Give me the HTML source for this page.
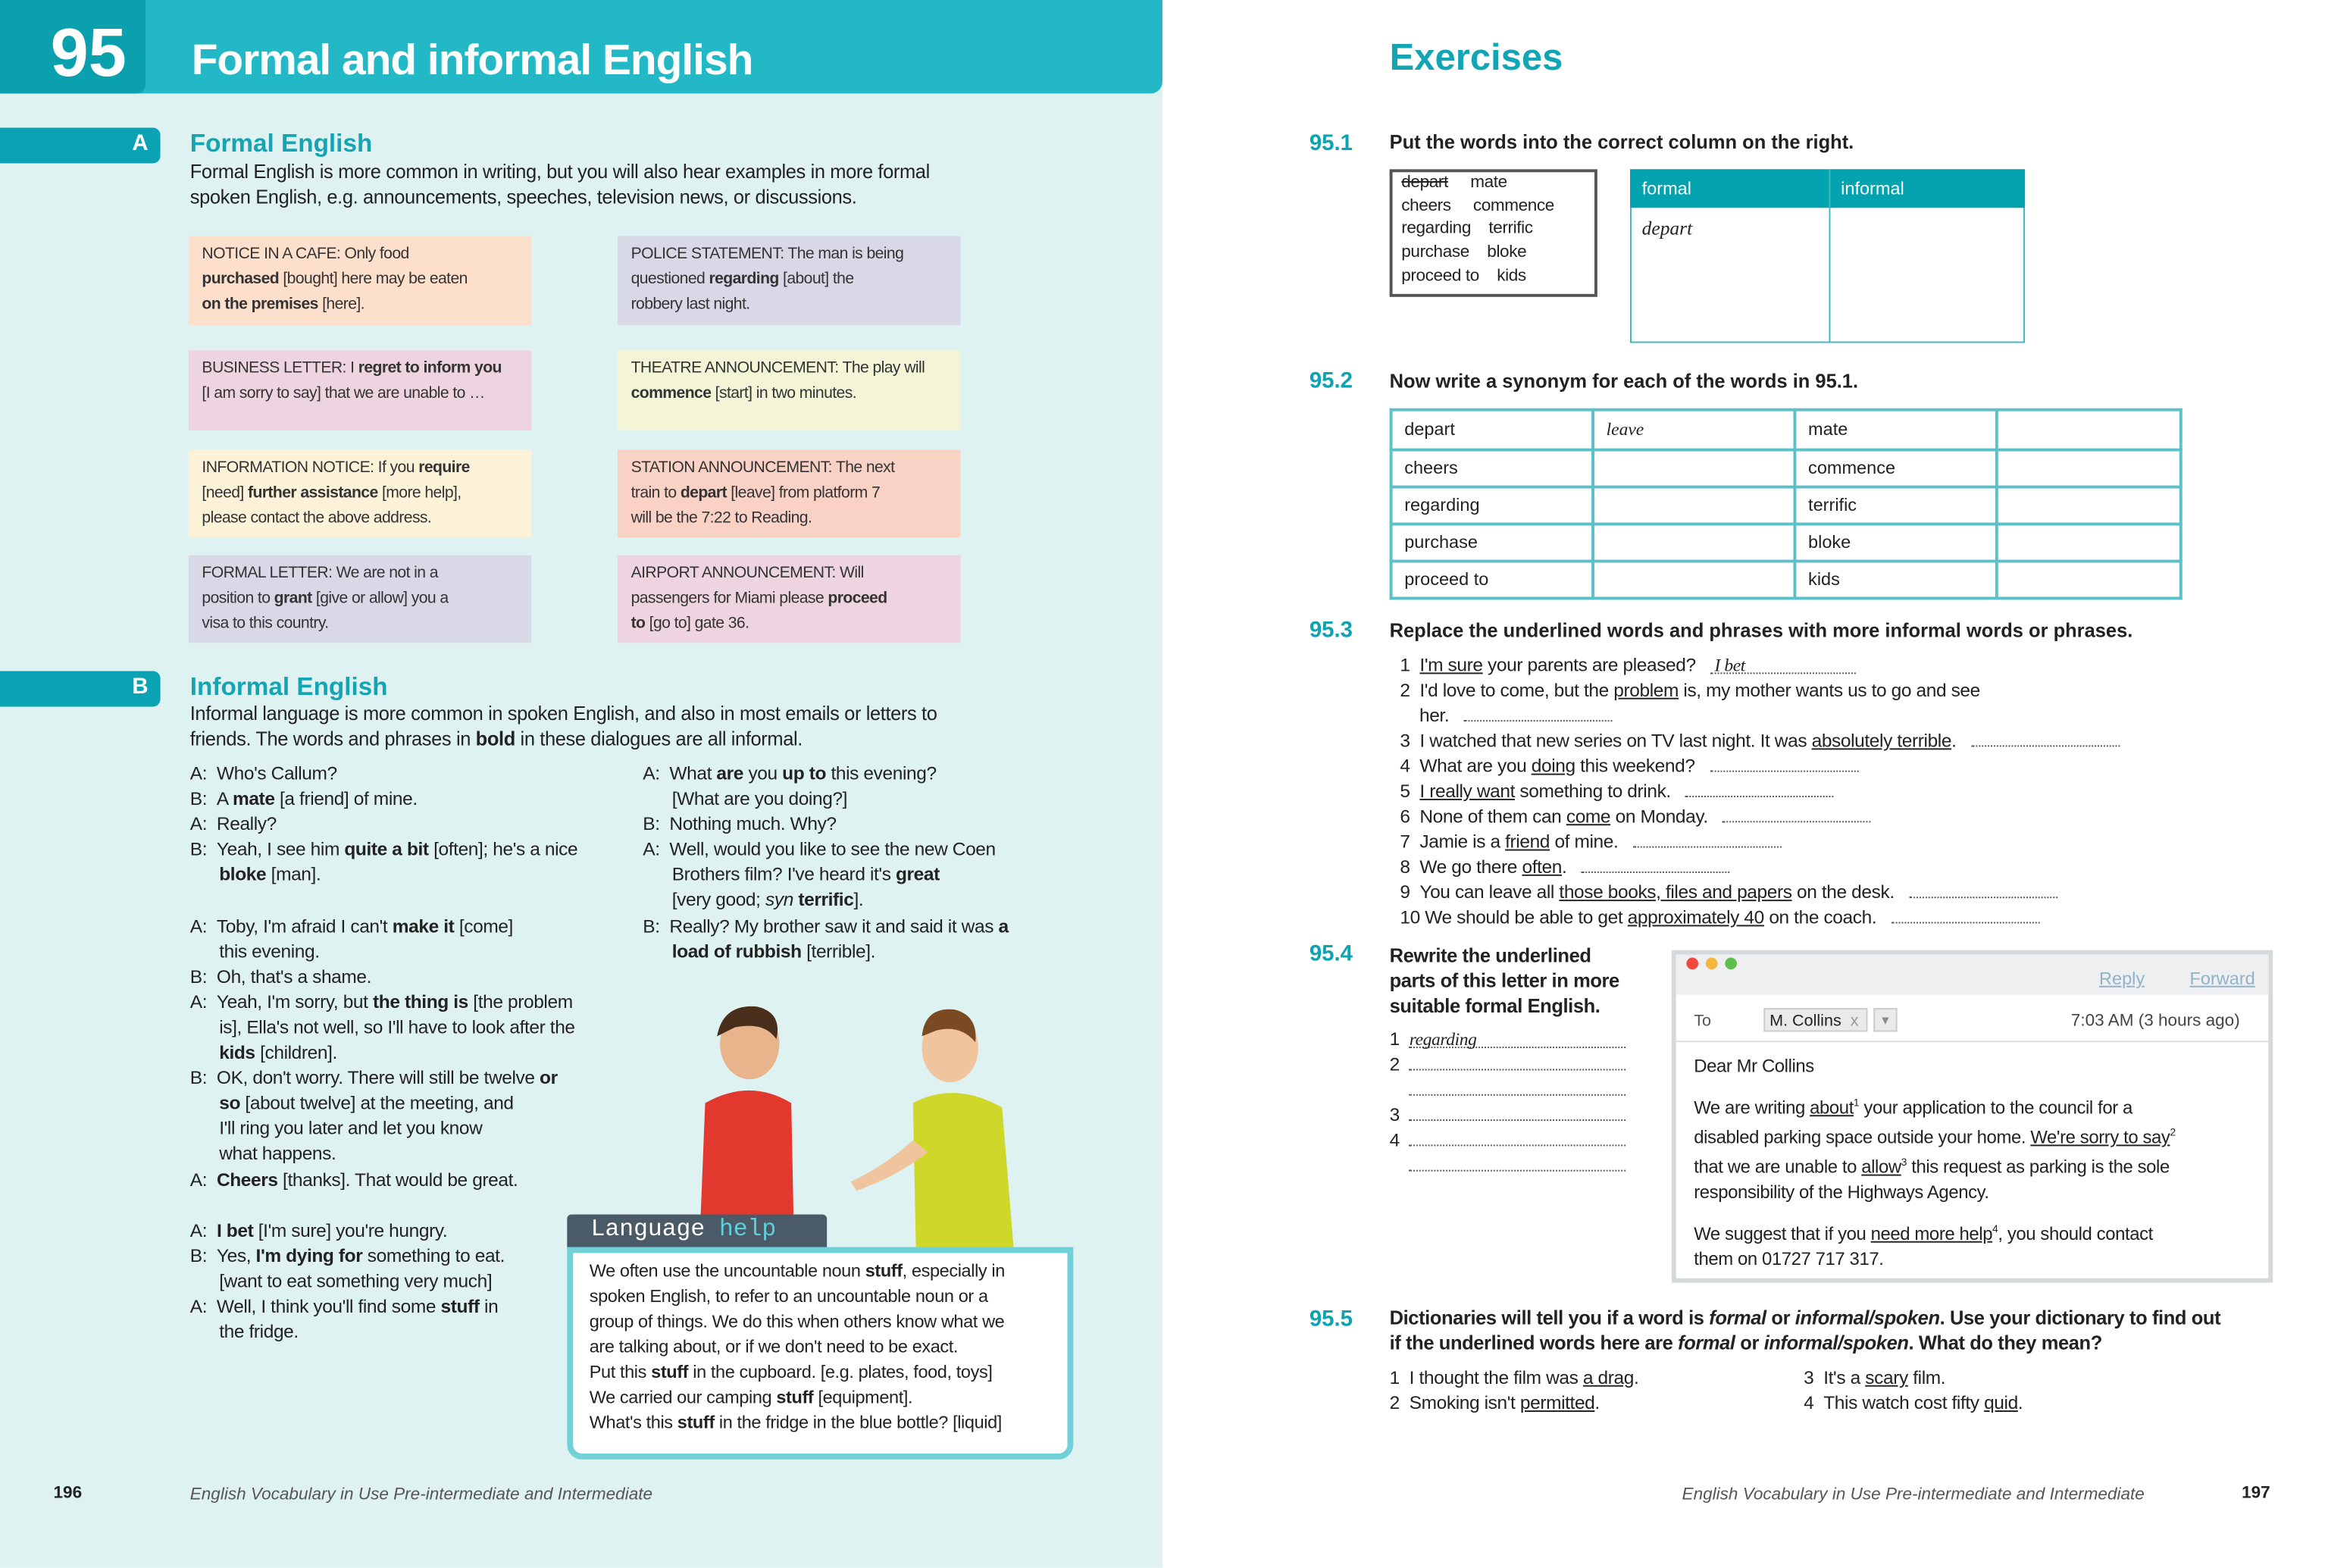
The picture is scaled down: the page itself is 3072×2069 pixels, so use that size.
<!DOCTYPE html>
<html><head><meta charset="utf-8"><style>
html,body{margin:0;padding:0;width:3072px;height:2067px;overflow:hidden;background:#fff}
#w{position:absolute;left:0;top:0;width:1568px;height:1056px;transform:scale(1.959);transform-origin:0 0;font-family:"Liberation Sans",sans-serif;color:#222}
.a{position:absolute}
.t{position:absolute;font-size:12.5px;line-height:17px;white-space:nowrap;letter-spacing:-0.2px}
.box{position:absolute;width:231px;padding:4px 9px;box-sizing:border-box;font-size:10.8px;line-height:17px;color:#333;letter-spacing:-0.3px;white-space:nowrap}
.hd{color:#0da3b3;font-weight:bold}
.u{text-decoration:underline}
.dl{display:inline-block;border-bottom:1px dotted #555;height:10px}
.hw{font-family:"Liberation Serif",serif;font-style:italic}
table{border-collapse:collapse}
</style></head><body>
<div id="w">
<!-- left page -->
<div class="a" style="left:0;top:0;width:783px;height:1056px;background:#dff2f2"></div>
<div class="a" style="left:0;top:0;width:783px;height:63px;background:#22b8c6;border-bottom-right-radius:8px"></div>
<div class="a" style="left:0;top:0;width:98px;height:63px;background:#0aa0ae;border-bottom-right-radius:6px"></div>
<div class="a" style="left:34px;top:8px;font-size:46px;font-weight:bold;color:#fff">95</div>
<div class="a" style="left:129px;top:25px;font-size:29px;font-weight:bold;color:#fff;letter-spacing:-0.5px">Formal and informal English</div>

<div class="a" style="left:0;top:86px;width:108px;height:24px;background:#0ba3b3;border-radius:0 5px 5px 0"></div>
<div class="a" style="left:89px;top:88px;color:#fff;font-weight:bold;font-size:15px">A</div>
<div class="a" style="left:128px;top:87px;font-size:17px;font-weight:bold;color:#14a5b5">Formal English</div>
<div class="t" style="left:128px;top:107px;font-size:13px">Formal English is more common in writing, but you will also hear examples in more formal<br>spoken English, e.g. announcements, speeches, television news, or discussions.</div>

<div class="box" style="left:127px;top:159px;height:60px;background:#fde0cb">NOTICE IN A CAFE: Only food<br><b>purchased</b> [bought] here may be eaten<br><b>on the premises</b> [here].</div>
<div class="box" style="left:416px;top:159px;height:60px;background:#d9d8e6">POLICE STATEMENT: The man is being<br>questioned <b>regarding</b> [about] the<br>robbery last night.</div>
<div class="box" style="left:127px;top:236px;height:54px;background:#eed4e1">BUSINESS LETTER: I <b>regret to inform you</b><br>[I am sorry to say] that we are unable to …</div>
<div class="box" style="left:416px;top:236px;height:54px;background:#f4f4d6">THEATRE ANNOUNCEMENT: The play will<br><b>commence</b> [start] in two minutes.</div>
<div class="box" style="left:127px;top:303px;height:59px;background:#fcf2d8">INFORMATION NOTICE: If you <b>require</b><br>[need] <b>further assistance</b> [more help],<br>please contact the above address.</div>
<div class="box" style="left:416px;top:303px;height:59px;background:#f9d2c5">STATION ANNOUNCEMENT: The next<br>train to <b>depart</b> [leave] from platform 7<br>will be the 7:22 to Reading.</div>
<div class="box" style="left:127px;top:374px;height:59px;background:#d9d8e6">FORMAL LETTER: We are not in a<br>position to <b>grant</b> [give or allow] you a<br>visa to this country.</div>
<div class="box" style="left:416px;top:374px;height:59px;background:#eed4e1">AIRPORT ANNOUNCEMENT: Will<br>passengers for Miami please <b>proceed</b><br><b>to</b> [go to] gate 36.</div>

<div class="a" style="left:0;top:452px;width:108px;height:24px;background:#0ba3b3;border-radius:0 5px 5px 0"></div>
<div class="a" style="left:89px;top:454px;color:#fff;font-weight:bold;font-size:15px">B</div>
<div class="a" style="left:128px;top:453px;font-size:17px;font-weight:bold;color:#14a5b5">Informal English</div>
<div class="t" style="left:128px;top:472px;font-size:13px">Informal language is more common in spoken English, and also in most emails or letters to<br>friends. The words and phrases in <b>bold</b> in these dialogues are all informal.</div>

<div class="t" style="left:128px;top:513px;line-height:17.1px">
A:&nbsp;&nbsp;Who's Callum?<br>B:&nbsp;&nbsp;A <b>mate</b> [a friend] of mine.<br>A:&nbsp;&nbsp;Really?<br>B:&nbsp;&nbsp;Yeah, I see him <b>quite a bit</b> [often]; he's a nice<br>&nbsp;&nbsp;&nbsp;&nbsp;&nbsp;&nbsp;<b>bloke</b> [man].<br><br>
A:&nbsp;&nbsp;Toby, I'm afraid I can't <b>make it</b> [come]<br>&nbsp;&nbsp;&nbsp;&nbsp;&nbsp;&nbsp;this evening.<br>B:&nbsp;&nbsp;Oh, that's a shame.<br>A:&nbsp;&nbsp;Yeah, I'm sorry, but <b>the thing is</b> [the problem<br>&nbsp;&nbsp;&nbsp;&nbsp;&nbsp;&nbsp;is], Ella's not well, so I'll have to look after the<br>&nbsp;&nbsp;&nbsp;&nbsp;&nbsp;&nbsp;<b>kids</b> [children].<br>B:&nbsp;&nbsp;OK, don't worry. There will still be twelve <b>or</b><br>&nbsp;&nbsp;&nbsp;&nbsp;&nbsp;&nbsp;<b>so</b> [about twelve] at the meeting, and<br>&nbsp;&nbsp;&nbsp;&nbsp;&nbsp;&nbsp;I'll ring you later and let you know<br>&nbsp;&nbsp;&nbsp;&nbsp;&nbsp;&nbsp;what happens.<br>A:&nbsp;&nbsp;<b>Cheers</b> [thanks]. That would be great.<br><br>
A:&nbsp;&nbsp;<b>I bet</b> [I'm sure] you're hungry.<br>B:&nbsp;&nbsp;Yes, <b>I'm dying for</b> something to eat.<br>&nbsp;&nbsp;&nbsp;&nbsp;&nbsp;&nbsp;[want to eat something very much]<br>A:&nbsp;&nbsp;Well, I think you'll find some <b>stuff</b> in<br>&nbsp;&nbsp;&nbsp;&nbsp;&nbsp;&nbsp;the fridge.</div>
<div class="t" style="left:433px;top:513px;line-height:17.1px">
A:&nbsp;&nbsp;What <b>are</b> you <b>up to</b> this evening?<br>&nbsp;&nbsp;&nbsp;&nbsp;&nbsp;&nbsp;[What are you doing?]<br>B:&nbsp;&nbsp;Nothing much. Why?<br>A:&nbsp;&nbsp;Well, would you like to see the new Coen<br>&nbsp;&nbsp;&nbsp;&nbsp;&nbsp;&nbsp;Brothers film? I've heard it's <b>great</b><br>&nbsp;&nbsp;&nbsp;&nbsp;&nbsp;&nbsp;[very good; <i>syn</i> <b>terrific</b>].<br>B:&nbsp;&nbsp;Really? My brother saw it and said it was <b>a</b><br>&nbsp;&nbsp;&nbsp;&nbsp;&nbsp;&nbsp;<b>load of rubbish</b> [terrible].</div>

<svg class="a" style="left:455px;top:668px" width="240" height="175">
<ellipse cx="50" cy="35" rx="20" ry="24" fill="#e8b48c"/><path d="M28 30 Q32 8 55 10 Q72 14 68 32 Q60 20 40 24 Z" fill="#4a2e1c"/>
<path d="M20 75 Q50 58 78 75 L80 175 L16 175 Z" fill="#e2382e"/>
<ellipse cx="185" cy="38" rx="19" ry="23" fill="#f0c49c"/><path d="M166 30 Q168 10 188 12 Q204 16 202 34 Q192 22 176 26 Z" fill="#7a4a22"/>
<path d="M160 75 Q188 60 220 78 L228 175 L162 175 Z" fill="#cfd72a"/>
<path d="M160 100 Q140 118 118 128 L122 134 Q150 124 170 108 Z" fill="#f0c49c"/>
</svg>

<div class="a" style="left:382px;top:818px;width:175px;height:23px;background:#4a5a66;border-radius:3px 3px 0 0"></div>
<div class="a" style="left:398px;top:819px;font-family:'Liberation Mono',monospace;font-size:16px;color:#fff">Language <span style="color:#5fd0dc">help</span></div>
<div class="a" style="left:382px;top:840px;width:341px;height:143px;box-sizing:border-box;background:#fff;border:4px solid #72d0d9;border-radius:0 0 10px 10px"></div>
<div class="t" style="left:397px;top:848px;font-size:12px;line-height:17px">We often use the uncountable noun <b>stuff</b>, especially in<br>spoken English, to refer to an uncountable noun or a<br>group of things. We do this when others know what we<br>are talking about, or if we don't need to be exact.<br>Put this <b>stuff</b> in the cupboard. [e.g. plates, food, toys]<br>We carried our camping <b>stuff</b> [equipment].<br>What's this <b>stuff</b> in the fridge in the blue bottle? [liquid]</div>

<div class="a" style="left:36px;top:1000px;font-size:11.5px;font-weight:bold">196</div>
<div class="a" style="left:128px;top:1001px;font-size:11.5px;font-style:italic;color:#555">English Vocabulary in Use Pre-intermediate and Intermediate</div>

<!-- right page -->
<div class="a" style="left:936px;top:25px;font-size:25px;font-weight:bold;color:#14a5b5">Exercises</div>

<div class="a hd" style="left:882px;top:88px;font-size:15px">95.1</div>
<div class="a" style="left:936px;top:88px;font-size:13px;font-weight:bold">Put the words into the correct column on the right.</div>
<div class="a" style="left:936px;top:114px;width:140px;height:86px;box-sizing:border-box;border:2px solid #555"></div>
<div class="t" style="left:944px;top:116px;font-size:11.5px;line-height:15.7px"><s>depart</s>&nbsp;&nbsp;&nbsp;&nbsp;&nbsp;mate<br>cheers&nbsp;&nbsp;&nbsp;&nbsp;&nbsp;commence<br>regarding&nbsp;&nbsp;&nbsp;&nbsp;terrific<br>purchase&nbsp;&nbsp;&nbsp;&nbsp;bloke<br>proceed to&nbsp;&nbsp;&nbsp;&nbsp;kids</div>
<div class="a" style="left:1098px;top:114px;width:266px;height:117px;box-sizing:border-box;border:1.5px solid #3fb7c2"></div>
<div class="a" style="left:1098px;top:114px;width:266px;height:26px;background:#04a3b0"></div>
<div class="a" style="left:1232px;top:114px;width:1px;height:117px;background:#3fb7c2"></div>
<div class="a" style="left:1106px;top:120px;color:#fff;font-size:12px">formal</div>
<div class="a" style="left:1240px;top:120px;color:#fff;font-size:12px">informal</div>
<div class="a hw" style="left:1106px;top:146px;font-size:13px">depart</div>

<div class="a hd" style="left:882px;top:248px;font-size:15px">95.2</div>
<div class="a" style="left:936px;top:249px;font-size:13px;font-weight:bold">Now write a synonym for each of the words in 95.1.</div>
<table class="a" style="left:936px;top:275px;width:534px;height:129px;font-size:12px">
<tbody>
<tr><td style="border:2px solid #5cc0c9;padding-left:8px;width:125px">depart</td><td class="hw" style="border:2px solid #5cc0c9;padding-left:8px;width:125px">leave</td><td style="border:2px solid #5cc0c9;padding-left:8px;width:125px">mate</td><td style="border:2px solid #5cc0c9"></td></tr>
<tr><td style="border:2px solid #5cc0c9;padding-left:8px">cheers</td><td style="border:2px solid #5cc0c9"></td><td style="border:2px solid #5cc0c9;padding-left:8px">commence</td><td style="border:2px solid #5cc0c9"></td></tr>
<tr><td style="border:2px solid #5cc0c9;padding-left:8px">regarding</td><td style="border:2px solid #5cc0c9"></td><td style="border:2px solid #5cc0c9;padding-left:8px">terrific</td><td style="border:2px solid #5cc0c9"></td></tr>
<tr><td style="border:2px solid #5cc0c9;padding-left:8px">purchase</td><td style="border:2px solid #5cc0c9"></td><td style="border:2px solid #5cc0c9;padding-left:8px">bloke</td><td style="border:2px solid #5cc0c9"></td></tr>
<tr><td style="border:2px solid #5cc0c9;padding-left:8px">proceed to</td><td style="border:2px solid #5cc0c9"></td><td style="border:2px solid #5cc0c9;padding-left:8px">kids</td><td style="border:2px solid #5cc0c9"></td></tr>
</tbody></table>

<div class="a hd" style="left:882px;top:416px;font-size:15px">95.3</div>
<div class="a" style="left:936px;top:417px;font-size:13px;font-weight:bold">Replace the underlined words and phrases with more informal words or phrases.</div>
<div class="t" style="left:943px;top:440px;line-height:17px;font-size:12.5px">
1&nbsp;&nbsp;<span class="u">I'm sure</span> your parents are pleased?&nbsp;&nbsp;&nbsp;<span class="dl hw" style="width:98px;font-size:12px;line-height:10px">&nbsp;I bet</span><br>
2&nbsp;&nbsp;I'd love to come, but the <span class="u">problem</span> is, my mother wants us to go and see<br>
&nbsp;&nbsp;&nbsp;&nbsp;her.&nbsp;&nbsp;&nbsp;<span class="dl" style="width:100px"></span><br>
3&nbsp;&nbsp;I watched that new series on TV last night. It was <span class="u">absolutely terrible</span>.&nbsp;&nbsp;&nbsp;<span class="dl" style="width:100px"></span><br>
4&nbsp;&nbsp;What are you <span class="u">doing</span> this weekend?&nbsp;&nbsp;&nbsp;<span class="dl" style="width:100px"></span><br>
5&nbsp;&nbsp;<span class="u">I really want</span> something to drink.&nbsp;&nbsp;&nbsp;<span class="dl" style="width:100px"></span><br>
6&nbsp;&nbsp;None of them can <span class="u">come</span> on Monday.&nbsp;&nbsp;&nbsp;<span class="dl" style="width:100px"></span><br>
7&nbsp;&nbsp;Jamie is a <span class="u">friend</span> of mine.&nbsp;&nbsp;&nbsp;<span class="dl" style="width:100px"></span><br>
8&nbsp;&nbsp;We go there <span class="u">often</span>.&nbsp;&nbsp;&nbsp;<span class="dl" style="width:100px"></span><br>
9&nbsp;&nbsp;You can leave all <span class="u">those books, files and papers</span> on the desk.&nbsp;&nbsp;&nbsp;<span class="dl" style="width:100px"></span><br>
10&nbsp;We should be able to get <span class="u">approximately 40</span> on the coach.&nbsp;&nbsp;&nbsp;<span class="dl" style="width:100px"></span></div>

<div class="a hd" style="left:882px;top:634px;font-size:15px">95.4</div>
<div class="t" style="left:936px;top:635px;font-size:13px;font-weight:bold">Rewrite the underlined<br>parts of this letter in more<br>suitable formal English.</div>
<div class="t" style="left:936px;top:692px;line-height:17px">1&nbsp;&nbsp;<span class="dl hw" style="width:146px;font-size:12px;line-height:10px">regarding</span><br>2&nbsp;&nbsp;<span class="dl" style="width:146px"></span><br>&nbsp;&nbsp;&nbsp;&nbsp;<span class="dl" style="width:146px"></span><br>3&nbsp;&nbsp;<span class="dl" style="width:146px"></span><br>4&nbsp;&nbsp;<span class="dl" style="width:146px"></span><br>&nbsp;&nbsp;&nbsp;&nbsp;<span class="dl" style="width:146px"></span></div>

<div class="a" style="left:1126px;top:640px;width:405px;height:224px;box-sizing:border-box;border:3px solid #d6d9dc;background:#fff"></div>
<div class="a" style="left:1129px;top:643px;width:399px;height:27px;background:#eeeff1"></div>
<div class="a" style="left:1136px;top:645px;width:8px;height:8px;border-radius:50%;background:#ee4b3e"></div>
<div class="a" style="left:1149px;top:645px;width:8px;height:8px;border-radius:50%;background:#f4b63b"></div>
<div class="a" style="left:1162px;top:645px;width:8px;height:8px;border-radius:50%;background:#5cc04b"></div>
<div class="a u" style="left:1414px;top:652px;font-size:12px;color:#8fb3c7">Reply</div>
<div class="a u" style="left:1475px;top:652px;font-size:12px;color:#8fb3c7">Forward</div>
<div class="a" style="left:1141px;top:682px;font-size:11px;color:#555">To</div>
<div class="a" style="left:1188px;top:679px;width:70px;height:16px;background:#e8eaec;border:1px solid #ccc;font-size:11px;line-height:16px;padding-left:3px;box-sizing:border-box">M. Collins <span style="color:#999">&nbsp;x</span></div>
<div class="a" style="left:1262px;top:679px;width:16px;height:16px;background:#e8eaec;border:1px solid #ccc;font-size:8px;text-align:center;line-height:16px;color:#888;box-sizing:border-box">▼</div>
<div class="a" style="left:1395px;top:682px;font-size:11.5px;color:#444">7:03 AM (3 hours ago)</div>
<div class="a" style="left:1129px;top:701px;width:399px;height:1px;background:#ddd"></div>
<div class="t" style="left:1141px;top:710px;font-size:12.2px;line-height:17px;color:#222">Dear Mr Collins<br><div style="height:8px"></div>We are writing <span class="u">about</span><sup style="font-size:7px">1</sup> your application to the council for a<br>disabled parking space outside your home. <span class="u">We're sorry to say</span><sup style="font-size:7px">2</sup><br>that we are unable to <span class="u">allow</span><sup style="font-size:7px">3</sup> this request as parking is the sole<br>responsibility of the Highways Agency.<br><div style="height:8px"></div>We suggest that if you <span class="u">need more help</span><sup style="font-size:7px">4</sup>, you should contact<br>them on 01727 717 317.</div>

<div class="a hd" style="left:882px;top:880px;font-size:15px">95.5</div>
<div class="t" style="left:936px;top:879px;font-size:13px;font-weight:bold">Dictionaries will tell you if a word is <i>formal</i> or <i>informal/spoken</i>. Use your dictionary to find out<br>if the underlined words here are <i>formal</i> or <i>informal/spoken</i>. What do they mean?</div>
<div class="t" style="left:936px;top:920px">1&nbsp;&nbsp;I thought the film was <span class="u">a drag</span>.<br>2&nbsp;&nbsp;Smoking isn't <span class="u">permitted</span>.</div>
<div class="t" style="left:1215px;top:920px">3&nbsp;&nbsp;It's a <span class="u">scary</span> film.<br>4&nbsp;&nbsp;This watch cost fifty <span class="u">quid</span>.</div>

<div class="a" style="left:1133px;top:1001px;font-size:11.5px;font-style:italic;color:#555">English Vocabulary in Use Pre-intermediate and Intermediate</div>
<div class="a" style="left:1510px;top:1000px;font-size:11.5px;font-weight:bold">197</div>
</div>
</body></html>
